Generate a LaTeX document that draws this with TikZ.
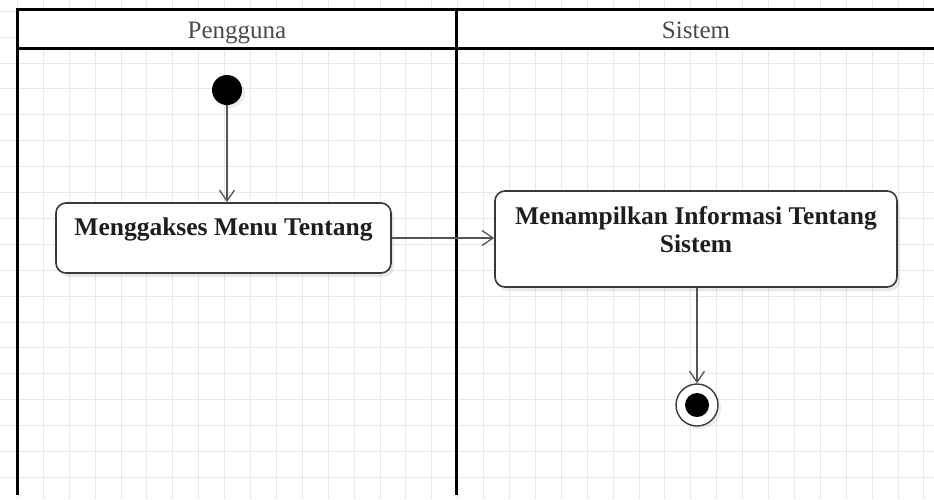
\documentclass[tikz,border=0pt]{standalone}
\usepackage{fontspec}
\setmainfont{Liberation Serif}
\usetikzlibrary{arrows.meta,shadows}
\definecolor{gridc}{HTML}{E8E8E8}
\definecolor{boxc}{HTML}{3A3A3A}
\definecolor{arrc}{HTML}{555555}
\definecolor{txtc}{HTML}{1E1E1E}
\definecolor{headc}{HTML}{4A4A4A}
\tikzset{
  lane/.style={line width=3pt, black},
  headtext/.style={text=headc, font=\fontsize{25}{28}\selectfont, inner sep=0pt, anchor=base},
  actbox/.style={draw=boxc, line width=1.6pt, fill=white, rounded corners=10pt,
    drop shadow={opacity=0.16, shadow xshift=3pt, shadow yshift=-4pt}},
  acttext/.style={text=txtc, font=\bfseries\fontsize{25.5}{28}\selectfont, align=center, inner sep=0pt},
  startnode/.style={circle, fill=black, minimum size=30pt, inner sep=0pt,
    drop shadow={opacity=0.14, shadow xshift=3pt, shadow yshift=-3pt}},
  endnode/.style={circle, draw=boxc, line width=1.4pt, fill=white, minimum size=42pt, inner sep=0pt,
    drop shadow={opacity=0.14, shadow xshift=3pt, shadow yshift=-3pt},
    path picture={\fill[black] (path picture bounding box.center) circle (12pt);}},
  flow/.style={draw=arrc, line width=1.5pt, -{Straight Barb[length=11pt,width=15pt,line width=1.3pt]}}
}
\begin{document}
\begin{tikzpicture}[x=1pt,y=-1pt]
\useasboundingbox (0,0) rectangle (934,499);
\fill[white] (0,0) rectangle (934,499);
% grid
\foreach \k in {-1,...,36} { \draw[gridc, line width=0.8pt] ({17.3+\k*25.9},0) -- ({17.3+\k*25.9},499); }
\foreach \k in {-1,...,19} { \draw[gridc, line width=0.8pt] (0,{11.1+\k*25.9}) -- (934,{11.1+\k*25.9}); }
% swimlane headers
\fill[white] (17,9) rectangle (934,48);
\draw[lane] (17,9) -- (934,9);
\draw[lane] (17,48) -- (934,48);
\draw[lane] (17,7.5) -- (17,495);
\draw[lane] (456,7.5) -- (456,495);
\node[headtext] (h1) at (237,38) {Pengguna};
\node[headtext] (h2) at (696,38) {Sistem};
% nodes
\node[startnode] (start) at (227,90) {};
\node[actbox, minimum width=335pt, minimum height=70pt] (a1) at (223.5,238) {};
\node[acttext] (a1t) at (223.5,229) {Menggakses Menu Tentang};
\node[actbox, minimum width=402pt, minimum height=96pt] (a2) at (696,239) {};
\node[acttext] (a2t) at (696,229.5) {Menampilkan Informasi Tentang\\Sistem};
\node[endnode] (end) at (697,405) {};
% connectors
\draw[flow] (start) -- (start |- a1.north);
\draw[flow] (a1.east) -- (a2.west |- a1.east);
\draw[flow] (a2.south -| end) -- (end);
\end{tikzpicture}
\end{document}
